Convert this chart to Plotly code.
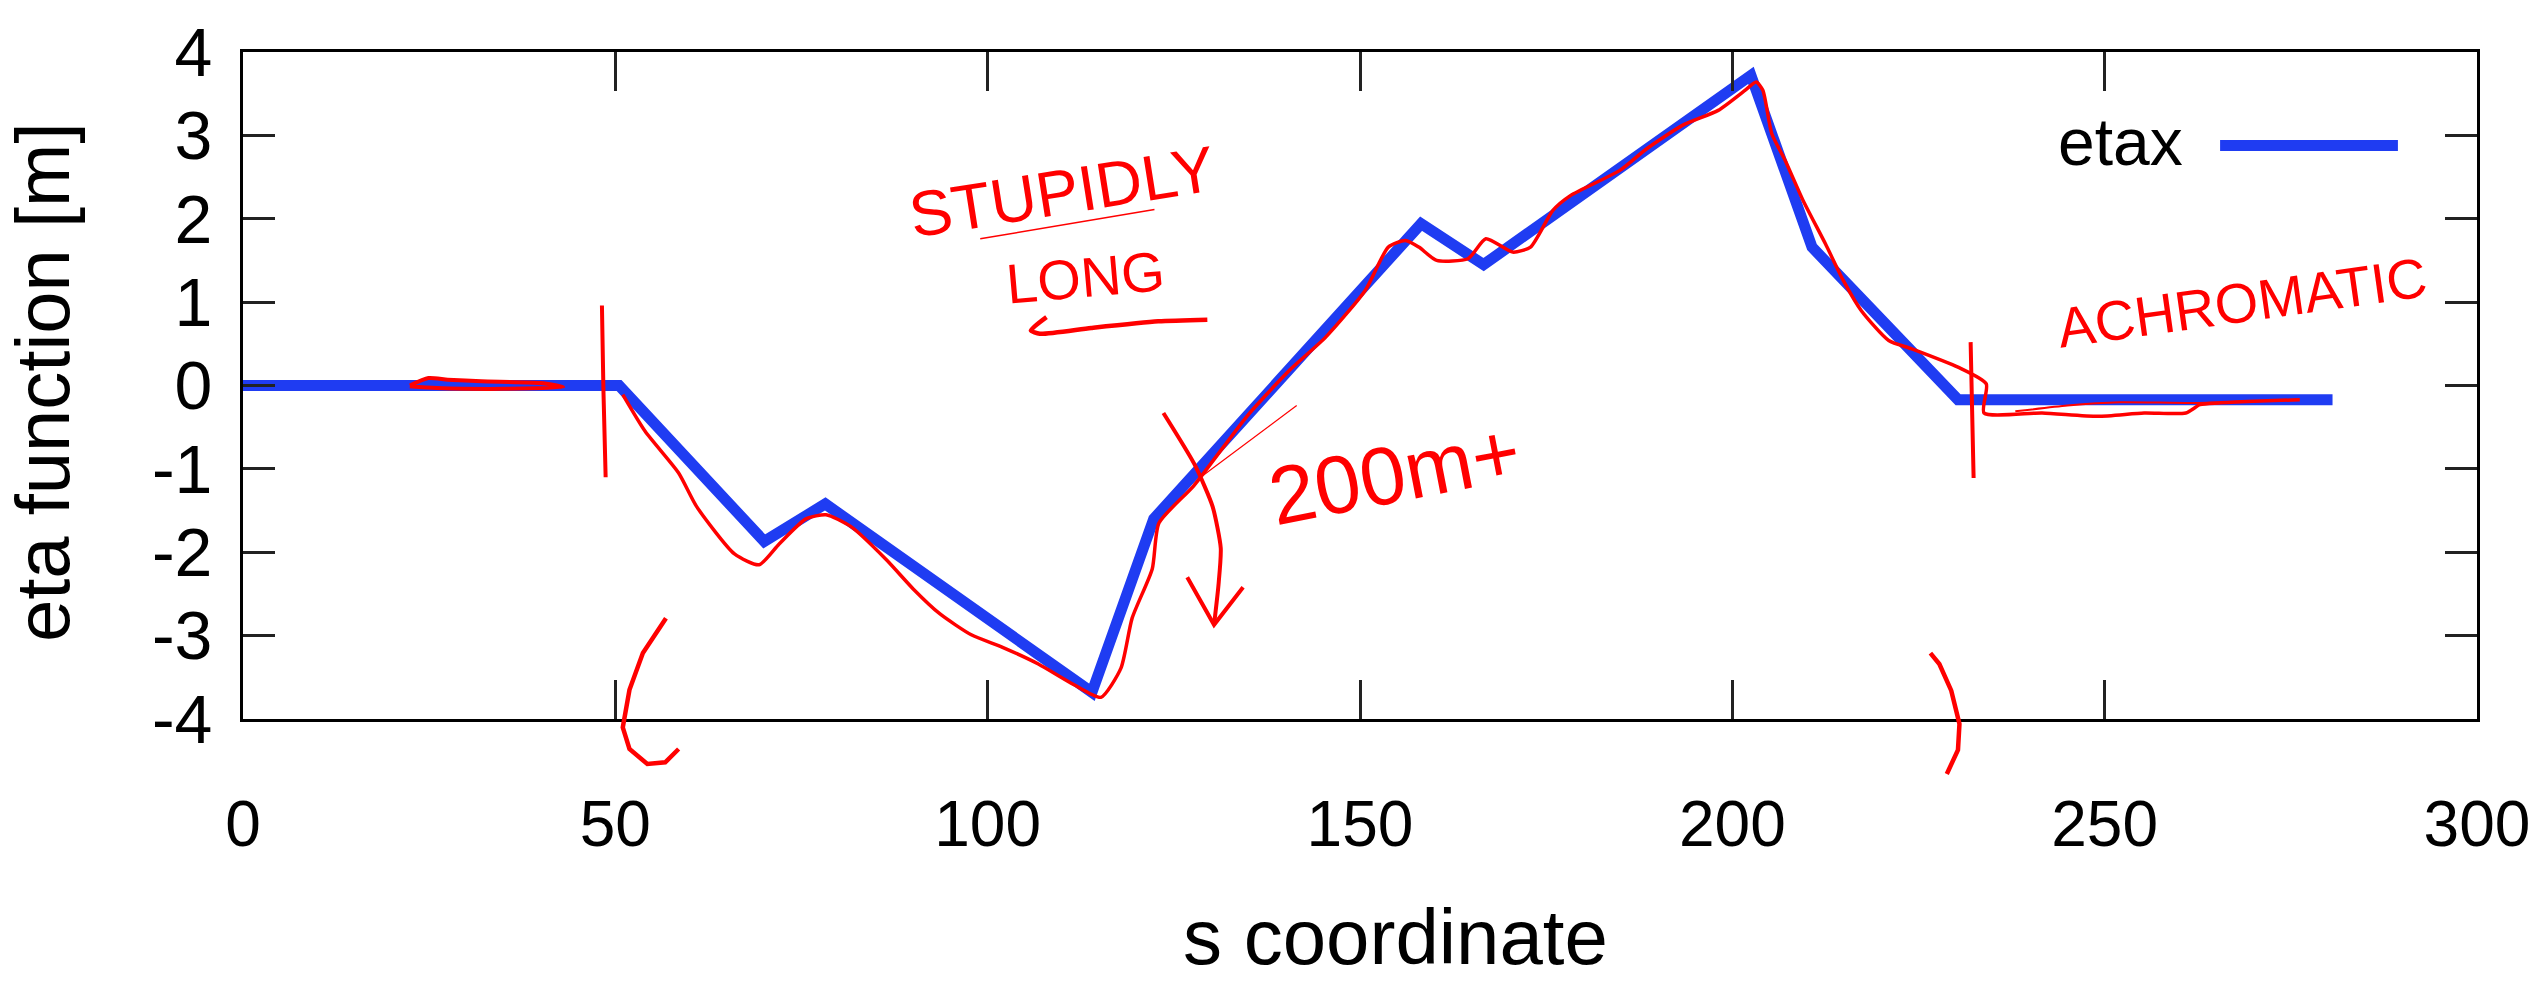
import plotly.graph_objects as go

# ---------------- chart data ----------------
s_coord = [0, 50.5, 70.0, 78.2, 114.0, 122.3, 158.2, 166.6, 202.5, 210.7, 230.3, 280.6]
etax = [0, 0, -1.87, -1.42, -3.68, -1.60, 1.94, 1.45, 3.72, 1.66, -0.17, -0.17]

x_tick_vals = [0, 50, 100, 150, 200, 250, 300]
x_tick_labels = ["0", "50", "100", "150", "200", "250", "300"]
y_tick_vals = [-4, -3, -2, -1, 0, 1, 2, 3, 4]
y_tick_labels = ["-4", "-3", "-2", "-1", "0", "1", "2", "3", "4"]
X_RANGE = [0, 300]
Y_RANGE = [-4, 4]

x_title = "s coordinate"
y_title = "eta function [m]"
series_name = "etax"

# ---------------- hand-drawn red markup ----------------
trace_s = [51.0, 54.0, 58.5, 60.9, 66.0, 69.3, 72.0, 75.6, 78.3, 81.6, 86.4, 90.0, 93.6,
           97.8, 102.0, 106.8, 111.6, 115.2, 117.9, 119.4, 122.1, 123.0, 127.7, 134.9,
           140.5, 145.4, 150.7, 153.8, 156.1, 157.9, 160.3, 164.5, 166.9, 170.5, 172.9,
           175.9, 178.3, 184.9, 188.5, 193.3, 198.1, 201.7, 203.2, 204.1, 205.3, 207.1,
           209.5, 212.5, 214.9, 217.3, 221.0, 224.1, 230.3, 234.1, 233.8, 241.6, 249.1,
           255.3, 260.9, 262.8, 265.3, 270.0, 276.2]
trace_eta = [-0.11, -0.55, -1.05, -1.45, -2.02, -2.15, -1.90, -1.60, -1.55, -1.69, -2.09,
             -2.44, -2.74, -2.99, -3.14, -3.34, -3.59, -3.74, -3.39, -2.79, -2.20, -1.65,
             -1.20, -0.36, 0.18, 0.58, 1.14, 1.66, 1.74, 1.66, 1.50, 1.52, 1.76, 1.60,
             1.66, 2.10, 2.28, 2.58, 2.84, 3.12, 3.30, 3.54, 3.64, 3.54, 3.02, 2.70, 2.22,
             1.70, 1.26, 0.90, 0.54, 0.44, 0.22, 0.02, -0.33, -0.33, -0.37, -0.33, -0.33,
             -0.23, -0.21, -0.19, -0.17]

thin_scribble_s = [238.0, 245.0, 252.0, 262.0, 276.0]
thin_scribble_eta = [-0.31, -0.24, -0.20, -0.21, -0.17]

left_scribble_s = [22.4, 24.9, 27.5, 32.0, 40.0, 43.0, 35.0, 26.0, 22.4]
left_scribble_eta = [0.00, 0.09, 0.07, 0.05, 0.03, -0.02, -0.04, -0.03, -0.01]

left_bar_s = [48.2, 48.4, 48.7]
left_bar_eta = [0.96, -0.05, -1.10]
right_bar_s = [232.0, 232.2, 232.4]
right_bar_eta = [0.52, -0.30, -1.11]

arrow_shaft_s = [123.6, 127.8, 130.2, 131.3, 131.0, 130.4]
arrow_shaft_eta = [-0.33, -0.95, -1.45, -1.95, -2.39, -2.87]
arrow_head_s = [126.8, 130.4, 134.3]
arrow_head_eta = [-2.30, -2.87, -2.42]

pointer_s = [128.6, 141.5]
pointer_eta = [-1.10, -0.24]

stupidly_underline_s = [99.0, 122.4]
stupidly_underline_eta = [1.76, 2.11]
long_underline_s = [107.9, 105.8, 107.0, 113.9, 122.9, 129.5]
long_underline_eta = [0.82, 0.66, 0.62, 0.69, 0.77, 0.79]

open_paren_s = [56.8, 53.7, 51.9, 51.0, 51.9, 54.3, 56.7, 58.5]
open_paren_eta = [-2.79, -3.21, -3.65, -4.10, -4.36, -4.54, -4.52, -4.36]
close_paren_s = [226.6, 227.8, 229.4, 230.5, 230.3, 228.8]
close_paren_eta = [-3.21, -3.34, -3.66, -4.06, -4.37, -4.66]

notes = [  # text, s, eta, size, angle
    ("STUPIDLY", 110.0, 2.32, 64, -9),
    ("LONG", 113.1, 1.30, 56, -5),
    ("200m+", 154.6, -1.05, 82, -11),
    ("ACHROMATIC", 268.4, 0.99, 56, -8),
]

BLUE = "#1f3cf2"
RED = "#ff0000"
FONT = "Liberation Sans, Arial, Helvetica, sans-serif"

fig = go.Figure()
fig.add_trace(go.Scatter(x=s_coord, y=etax, mode="lines", name=series_name,
                         line=dict(color=BLUE, width=11), showlegend=False,
                         hoverinfo="skip"))


def red_line(xs, ys, w=3.5):
    fig.add_trace(go.Scatter(x=xs, y=ys, mode="lines", showlegend=False,
                             hoverinfo="skip",
                             line=dict(color=RED, width=w, shape="spline", smoothing=0.6)))


red_line(trace_s, trace_eta)
red_line(thin_scribble_s, thin_scribble_eta, 2)
red_line(left_scribble_s, left_scribble_eta, 4)
red_line(left_bar_s, left_bar_eta, 4)
red_line(right_bar_s, right_bar_eta, 4)
red_line(arrow_shaft_s, arrow_shaft_eta, 4)
fig.add_trace(go.Scatter(x=arrow_head_s, y=arrow_head_eta, mode="lines", showlegend=False,
                         hoverinfo="skip", line=dict(color=RED, width=4)))
red_line(pointer_s, pointer_eta, 1.2)
red_line(stupidly_underline_s, stupidly_underline_eta, 1.5)
red_line(long_underline_s, long_underline_eta, 4.5)


def to_paper_y(v):
    return (v - Y_RANGE[0]) / (Y_RANGE[1] - Y_RANGE[0])


def paren_path(xs, ys):
    pts = [f"{x},{to_paper_y(y):.4f}" for x, y in zip(xs, ys)]
    return "M" + " L".join(pts)


shapes = []
for xs, ys in [(open_paren_s, open_paren_eta), (close_paren_s, close_paren_eta)]:
    shapes.append(dict(type="path", xref="x", yref="paper", path=paren_path(xs, ys),
                       line=dict(color=RED, width=4.5), layer="above"))

# legend (gnuplot style: label then sample line)
shapes.append(dict(type="line", xref="paper", yref="paper", x0=0.885, x1=0.9646,
                   y0=0.8598, y1=0.8598, line=dict(color=BLUE, width=11)))

annotations = [
    dict(text=series_name, xref="paper", yref="paper", x=0.8693, y=0.865,
         xanchor="right", yanchor="middle", showarrow=False,
         font=dict(family=FONT, size=66, color="black")),
    dict(text=x_title, xref="paper", yref="paper", x=0.516, y=-0.327,
         xanchor="center", yanchor="middle", showarrow=False,
         font=dict(family=FONT, size=78, color="black")),
    dict(text=y_title, xref="paper", yref="paper", x=-0.090, y=0.505,
         xanchor="center", yanchor="middle", showarrow=False, textangle=-90,
         font=dict(family=FONT, size=76, color="black")),
]
for txt, xs, ys, size, ang in notes:
    annotations.append(dict(text=txt, x=xs, y=ys, xref="x", yref="y", showarrow=False,
                            textangle=ang, xanchor="center", yanchor="middle",
                            font=dict(family=FONT, size=size, color=RED)))

axis_common = dict(showline=True, linecolor="black", linewidth=3, mirror="allticks",
                   ticks="inside", tickcolor="#222", tickwidth=3, showgrid=False,
                   zeroline=False, automargin=False)

fig.update_layout(
    width=2530, height=984,
    margin=dict(l=243, r=53, t=52, b=265),
    paper_bgcolor="white", plot_bgcolor="white",
    xaxis=dict(range=X_RANGE, tickvals=x_tick_vals, ticktext=x_tick_labels,
               ticklen=39, ticklabelstandoff=47, ticklabeloverflow="allow",
               tickfont=dict(family=FONT, size=64, color="black"), **axis_common),
    yaxis=dict(range=Y_RANGE, tickvals=y_tick_vals, ticktext=y_tick_labels,
               ticklen=32, ticklabelstandoff=14,
               tickfont=dict(family=FONT, size=68, color="black"), **axis_common),
    shapes=shapes, annotations=annotations, showlegend=False,
)

fig.write_html("out.html", config={"displayModeBar": False},
               post_script="document.body.style.margin='0';"
                           "document.body.style.overflow='hidden';")
